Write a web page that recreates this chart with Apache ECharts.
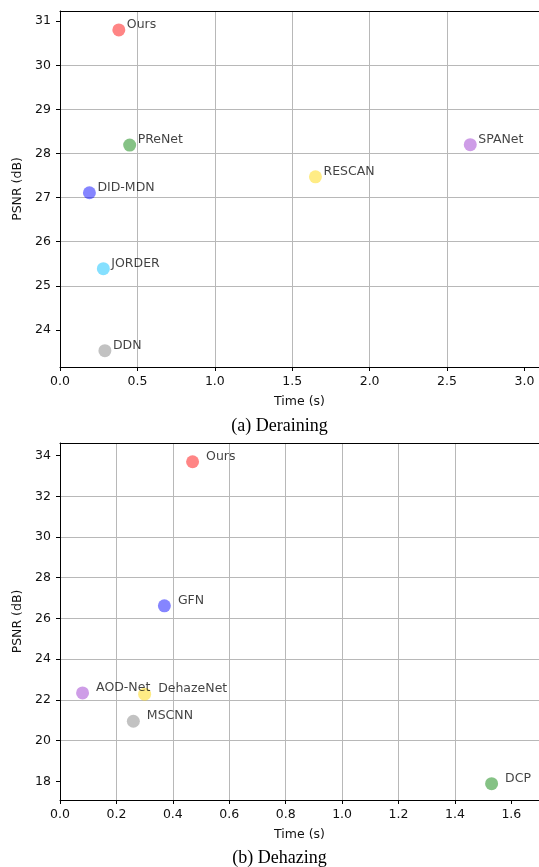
<!DOCTYPE html>
<html><head><meta charset="utf-8">
<script src="https://cdn.jsdelivr.net/npm/echarts@6/dist/echarts.min.js"></script>
<style>html,body{margin:0;padding:0;background:#fff}#c{width:539px;height:867px}</style>
</head><body><div id="c"></div>
<script>
// ---- Data: (a) Deraining ----
const derainMethods = ['Ours', 'PReNet', 'DID-MDN', 'SPANet', 'RESCAN', 'JORDER', 'DDN'];
const derainTime    = [0.38, 0.45, 0.19, 2.65, 1.65, 0.28, 0.29];
const derainPSNR    = [30.80, 28.19, 27.11, 28.20, 27.47, 25.39, 23.53];
const derainXTicks  = [0.0, 0.5, 1.0, 1.5, 2.0, 2.5, 3.0];
const derainYTicks  = [24, 25, 26, 27, 28, 29, 30, 31];

// ---- Data: (b) Dehazing ----
const dehazeMethods = ['Ours', 'GFN', 'AOD-Net', 'DehazeNet', 'MSCNN', 'DCP'];
const dehazeTime    = [0.47, 0.37, 0.08, 0.30, 0.26, 1.53];
const dehazePSNR    = [33.70, 26.62, 22.34, 22.28, 20.95, 17.88];
const dehazeXTicks  = [0.0, 0.2, 0.4, 0.6, 0.8, 1.0, 1.2, 1.4, 1.6];
const dehazeYTicks  = [18, 20, 22, 24, 26, 28, 30, 32, 34];

// ---- Styles ----
const derainColors = ['#ff0000', '#008000', '#0000ff', '#9932cc', '#ffd700', '#00bfff', '#808080'];
const dehazeColors = ['#ff0000', '#0000ff', '#9932cc', '#ffd700', '#808080', '#008000'];

function rgba(hex, a) {
  const n = parseInt(hex.slice(1), 16);
  return 'rgba(' + ((n >> 16) & 255) + ',' + ((n >> 8) & 255) + ',' + (n & 255) + ',' + a + ')';
}
function mkData(names, xs, ys, colors) {
  return names.map((n, i) => ({ name: n, value: [xs[i], ys[i]], itemStyle: { color: rgba(colors[i], 0.6) } }));
}

const FONT = 'DejaVu Sans';
const TXT = '#111';
const fontObj = { fontFamily: FONT, fontSize: 12.5, color: TXT };

function mainX(gridIndex, min, max, step, ticks) {
  return {
    type: 'value', gridIndex, position: 'bottom', min, max,
    minInterval: step, maxInterval: step, splitNumber: Math.round((max - min) / step),
    axisLine: { show: true, onZero: false, lineStyle: { color: '#000', width: 1 } },
    axisTick: { show: true, inside: false, length: 4, lineStyle: { color: '#000', width: 1 }, customValues: ticks },
    axisLabel: Object.assign({ customValues: ticks, margin: 8, formatter: v => Number(v).toFixed(1) }, fontObj),
    splitLine: { show: true, showMinLine: false, showMaxLine: false, lineStyle: { color: '#b8b8b8', width: 1 } },
    name: 'Time (s)', nameLocation: 'middle', nameGap: 28, nameTextStyle: fontObj
  };
}
function topX(gridIndex, min, max) {
  return {
    type: 'value', gridIndex, position: 'top', min, max,
    axisLine: { show: true, onZero: false, lineStyle: { color: '#000', width: 1 } },
    axisTick: { show: false }, axisLabel: { show: false }, splitLine: { show: false }
  };
}
function mainY(gridIndex, min, max, step, ticks) {
  return {
    type: 'value', gridIndex, position: 'left', min, max,
    minInterval: step, maxInterval: step, splitNumber: Math.round((max - min) / step),
    axisLine: { show: true, onZero: false, lineStyle: { color: '#000', width: 1 } },
    axisTick: { show: true, inside: false, length: 4, lineStyle: { color: '#000', width: 1 }, customValues: ticks },
    axisLabel: Object.assign({ customValues: ticks, margin: 9, formatter: v => String(Math.round(v)) }, fontObj),
    splitLine: { show: true, showMinLine: false, showMaxLine: false, lineStyle: { color: '#b8b8b8', width: 1 } },
    name: 'PSNR (dB)', nameLocation: 'middle', nameGap: 33, nameRotate: 90, nameTextStyle: fontObj
  };
}
function scatter(xi, yi, data, dist) {
  return {
    type: 'scatter', xAxisIndex: xi, yAxisIndex: yi, symbol: 'circle', symbolSize: 13,
    data,
    label: Object.assign({ show: true, position: 'right', distance: dist, offset: [0, -5], formatter: '{b}' }, fontObj),
    emphasis: { disabled: true }, silent: true
  };
}

const chart = echarts.init(document.getElementById('c'), null, { renderer: 'canvas' });
chart.setOption({
  animation: false,
  backgroundColor: '#fff',
  grid: [
    { left: 60, top: 11, right: 0, height: 356, outerBoundsMode: 'none' },
    { left: 60, top: 443, right: 0, height: 357, outerBoundsMode: 'none' }
  ],
  xAxis: [
    mainX(0, 0, 3.094, 0.5, derainXTicks),
    topX(0, 0, 3.094),
    mainX(1, 0, 1.698, 0.2, dehazeXTicks),
    topX(1, 0, 1.698)
  ],
  yAxis: [
    mainY(0, 23.16, 31.23, 1, derainYTicks),
    mainY(1, 17.08, 34.62, 2, dehazeYTicks)
  ],
  series: [
    scatter(0, 0, mkData(derainMethods, derainTime, derainPSNR, derainColors), 1.5),
    scatter(2, 1, mkData(dehazeMethods, dehazeTime, dehazePSNR, dehazeColors), 7)
  ],
  graphic: [
    { type: 'text', x: 279.5, y: 426, style: { text: '(a) Deraining', font: '18px "Liberation Serif"', fontSize: 18, fontFamily: 'Liberation Serif', fill: '#000', align: 'center', verticalAlign: 'middle', textAlign: 'center', textVerticalAlign: 'middle' } },
    { type: 'text', x: 279.5, y: 858, style: { text: '(b) Dehazing', font: '18px "Liberation Serif"', fontSize: 18, fontFamily: 'Liberation Serif', fill: '#000', align: 'center', verticalAlign: 'middle', textAlign: 'center', textVerticalAlign: 'middle' } }
  ]
});
</script>
</body></html>
